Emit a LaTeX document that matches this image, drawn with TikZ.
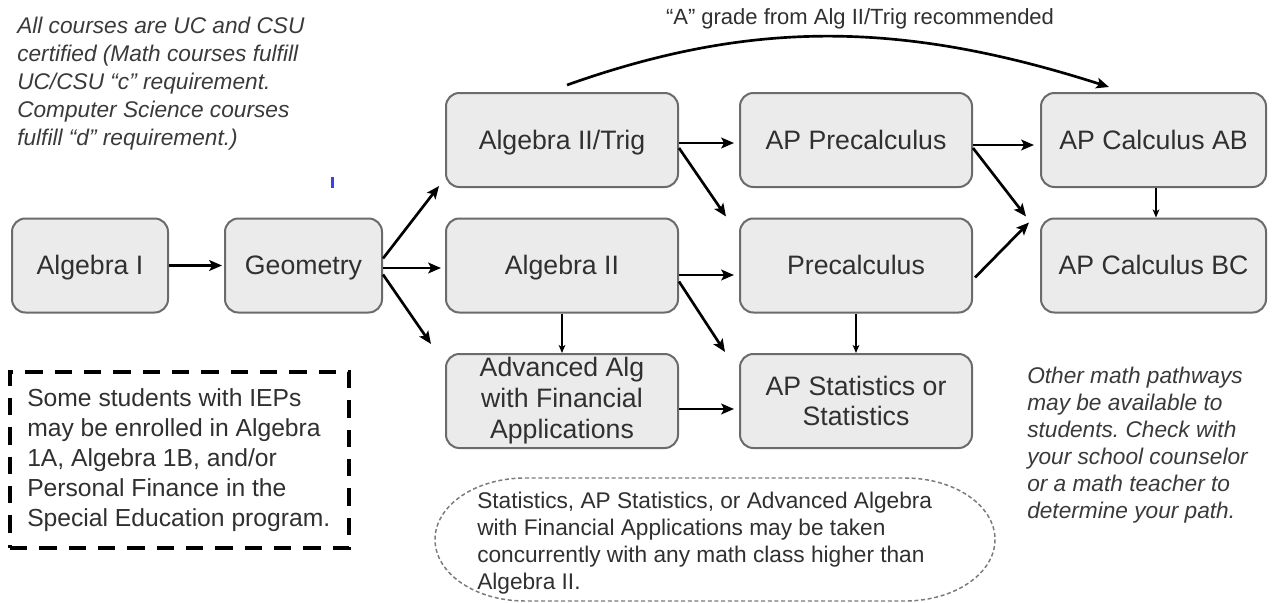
\documentclass[tikz,border=0pt]{standalone}
\usepackage{fontspec}
\setmainfont{Liberation Sans}
\usetikzlibrary{arrows.meta,calc}
\definecolor{boxfill}{HTML}{EBEBEB}
\definecolor{boxdraw}{HTML}{6B6B6B}
\definecolor{txt}{HTML}{303030}
\definecolor{notetxt}{HTML}{3A3A3A}
\definecolor{dotc}{HTML}{7A7A7A}
\definecolor{markblue}{HTML}{3344EE}
\frenchspacing
\begin{document}
\begin{tikzpicture}[x=0.75pt,y=-0.75pt,
  box/.style={draw=boxdraw, fill=boxfill, line width=1.5pt, rounded corners=10pt,
    inner sep=0pt, align=center, text=txt, font=\fontsize{20}{23}\selectfont,
    minimum height=70.5pt, minimum width=174pt},
  oneline/.style={text height=16pt, text depth=2pt},
  arr/.style={-{Stealth[length=9.5pt,width=8pt,inset=2pt]}, line width=2pt, black},
  thinarr/.style={-{Stealth[length=6pt,width=5pt,inset=1.5pt]}, line width=1pt, black},
  note/.style={font=\fontsize{17}{21}\selectfont\itshape, text=notetxt, align=left, inner sep=0pt},
  plain/.style={text=txt, align=left, inner sep=0pt}
]
\fill[white] (0,0) rectangle (1272,603);
\useasboundingbox (0,0) rectangle (1272,603);

% boxes
\node[box, oneline, minimum width=117pt] (alg1) at (90,265.5) {Algebra I};
\node[box, oneline, minimum width=117.75pt] (geom) at (303.5,265.5) {Geometry};
\node[box, oneline] (alg2trig) at (562,140) {Algebra II/Trig};
\node[box, oneline] (apprecalc) at (856,140) {AP Precalculus};
\node[box, oneline, minimum width=168.75pt] (apcalcab) at (1153.5,140) {AP Calculus AB};
\node[box, oneline] (alg2) at (562,265.5) {Algebra II};
\node[box, oneline] (precalc) at (856,265.5) {Precalculus};
\node[box, oneline, minimum width=168.75pt] (apcalcbc) at (1153.5,265.5) {AP Calculus BC};
\node[box, font=\fontsize{20}{23.25}\selectfont] (advalg) at (562,401) {Advanced Alg\\with Financial\\Applications};
\node[box, font=\fontsize{20}{22.5}\selectfont] (apstats) at (856,401) {AP Statistics or\\Statistics};

% arrows
\draw[arr] (alg1.east) -- ($(geom.west)+(-2,0)$);
\draw[arr] ($(geom.east)+(0,-7)$) -- ($(alg2trig.south west)+(-6,-2)$);
\draw[arr] ($(geom.east)+(0,2.5)$) -- ($(alg2.west)+(-4,2.5)$);
\draw[arr] ($(geom.east)+(0,9)$) -- ($(advalg.north west)+(-14,-9)$);
\draw[arr] ($(alg2trig.east)+(0,3)$) -- ($(apprecalc.west)+(-5,3)$);
\draw[arr] ($(alg2trig.east)+(0,8)$) -- ($(precalc.north west)+(-13,-1)$);
\draw[arr] ($(apprecalc.east)+(0,5)$) -- ($(apcalcab.west)+(-6,5)$);
\draw[arr] ($(apprecalc.east)+(0,8)$) -- ($(apcalcbc.north west)+(-14,-1)$);
\draw[arr] ($(precalc.east)+(2,12)$) -- ($(apcalcbc.north west)+(-11,5)$);
\draw[arr] ($(alg2.east)+(0,9.5)$) -- ($(precalc.west)+(-5,9.5)$);
\draw[arr] ($(alg2.east)+(0,16)$) -- ($(apstats.north west)+(-14,-1)$);
\draw[arr] ($(advalg.east)+(0,8)$) -- ($(apstats.west)+(-5,8)$);
\draw[thinarr] (alg2.south) -- (advalg.north);
\draw[thinarr] (precalc.south) -- (apstats.north);
\draw[thinarr] ($(apcalcab.south)+(2.5,0)$) -- ($(apcalcbc.north)+(2.5,0)$);

% curved recommendation arrow
\coordinate (cs) at ($(alg2trig.north)+(5,-7)$);
\coordinate (ce) at ($(apcalcab.north west)+(69,-5)$);
\draw[arr] (cs) .. controls (750,20) and (900,20) .. (ce);
\node[text=txt, inner sep=0pt, font=\fontsize{16.5}{20}\selectfont] (reclabel) at (860,19) {“A” grade from Alg II/Trig recommended};

% notes
\node[note, anchor=west] (topnote) at (17,83.5) {All courses are UC and CSU\\certified (Math courses fulfill\\UC/CSU “c” requirement.\\Computer Science courses\\fulfill “d” requirement.)};
\node[note, anchor=west, font=\fontsize{17}{20.25}\selectfont\itshape] (rightnote) at (1027,445) {Other math pathways\\may be available to\\students. Check with\\your school counselor\\or a math teacher to\\determine your path.};

\node[draw=black, line width=2.6pt, dash pattern=on 13pt off 9pt, minimum width=254.25pt, minimum height=132pt,
  inner sep=0pt] (iepbox) at (179.5,460) {};
\node[plain, anchor=west, font=\fontsize{18.5}{22.5}\selectfont] (ieptext) at (27,460.5) {Some students with IEPs\\may be enrolled in Algebra\\1A, Algebra 1B, and/or\\Personal Finance in the\\Special Education program.};

% dotted rounded shape
\draw[dotc, line width=1.1pt, dash pattern=on 3pt off 2pt]
  (525,478) -- (905,478) arc[start angle=-90, end angle=90, x radius=90, y radius=61.5]
  -- (525,601) arc[start angle=90, end angle=270, x radius=90, y radius=61.5] -- cycle;
\node[plain, anchor=west, font=\fontsize{17}{20.25}\selectfont] (elltext) at (477,543.5) {Statistics, AP Statistics, or Advanced Algebra\\with Financial Applications may be taken\\concurrently with any math class higher than\\Algebra II.};

% stray blue mark
\fill[markblue] (331,177) rectangle (333.5,188);
\end{tikzpicture}
\end{document}
